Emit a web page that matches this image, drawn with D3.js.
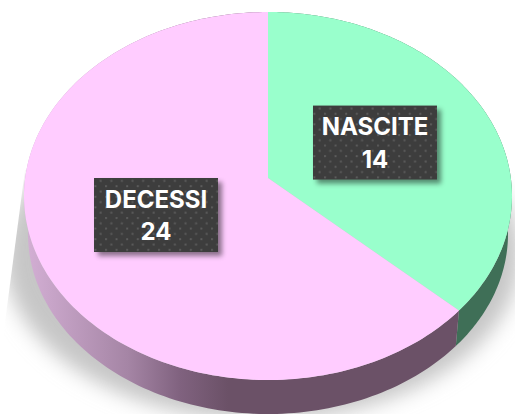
<!DOCTYPE html>
<html>
<head>
<meta charset="utf-8">
<script src="https://cdn.jsdelivr.net/npm/d3@7"></script>
<style>
    html, body { margin: 0; padding: 0; background: #fff; overflow: hidden; }
    svg { display: block; }
    text { font-family: Inter, "Liberation Sans", sans-serif; font-weight: 700; fill: #fff; text-anchor: middle; }
</style>
</head>
<body>
<svg id="chart" width="515" height="414"></svg>
<script>
// values
const categories = ["NASCITE", "DECESSI"];
const values = [14, 24];
const topColors = ["#99ffcc", "#ffccff"];

const svg = d3.select("#chart");
const defs = svg.append("defs");

// top ellipse, bottom ellipse, and the apex which sits above the ellipse centre (perspective)
const cx = 268, cy = 196, rx = 244, ry = 184;
const apexY = 178;
const bottomRx = 240, bottomRy = 180, depth = 38;

// pie angle -> point on the top rim: ray from the apex, hits the ellipse
function rimT(a) {
    let dx = Math.sin(a) * rx, dy = -Math.cos(a) * ry;
    let off = apexY - cy;
    let A = (dx * dx) / (rx * rx) + (dy * dy) / (ry * ry);
    let B = 2 * off * dy / (ry * ry);
    let C = (off * off) / (ry * ry) - 1;
    return (-B + Math.sqrt(B * B - 4 * A * C)) / (2 * A);
}
function rimTop(a) {
    let t = rimT(a);
    return [cx + t * Math.sin(a) * rx, apexY - t * Math.cos(a) * ry];
}
function rimBottom(a) {
    let p = rimTop(a);
    return [cx + (p[0] - cx) * bottomRx / rx, cy + depth + (p[1] - cy) * bottomRy / ry];
}
function samples(d, fn) {
    return d3.range(0, 181).map(i => fn(d.startAngle + (d.endAngle - d.startAngle) * i / 180));
}

const arcs = d3.pie().sort(null)(values);
const line = d3.line();

// side gradient for the big slice
let sideGrad = defs.append("linearGradient")
    .attr("id", "sideGrad")
    .attr("gradientUnits", "userSpaceOnUse")
    .attr("x1", 28).attr("x2", 228).attr("y1", 0).attr("y2", 0);
sideGrad.append("stop").attr("offset", "0").attr("stop-color", "#d2aed3");
sideGrad.append("stop").attr("offset", "0.5").attr("stop-color", "#a585a5");
sideGrad.append("stop").attr("offset", "0.76").attr("stop-color", "#80627f");
sideGrad.append("stop").attr("offset", "1").attr("stop-color", "#6b5167");
const sideColors = ["#3f6f57", "url(#sideGrad)"];

defs.append("filter").attr("id", "pieShadow")
    .attr("x", "-20%").attr("y", "-20%").attr("width", "140%").attr("height", "140%")
    .append("feGaussianBlur").attr("stdDeviation", 10);

// the shadow has a hard edge up on the left
defs.append("clipPath").attr("id", "shadowClip")
    .append("polygon")
    .attr("points", "25,170 4,330 4,414 515,414 515,170");

let boxShadow = defs.append("filter").attr("id", "boxShadow")
    .attr("x", "-20%").attr("y", "-20%").attr("width", "140%").attr("height", "140%");
boxShadow.append("feDropShadow")
    .attr("dx", 4).attr("dy", 4).attr("stdDeviation", 2.5)
    .attr("flood-color", "#000").attr("flood-opacity", 0.45);

// dots on the label boxes
let dots = defs.append("pattern").attr("id", "dots")
    .attr("patternUnits", "userSpaceOnUse")
    .attr("width", 10.6).attr("height", 10.6);
dots.append("rect").attr("width", 10.6).attr("height", 10.6).attr("fill", "#3c3c3c");
[[2, 2], [7.3, 7.3]].forEach(p => {
    dots.append("rect").attr("x", p[0]).attr("y", p[1]).attr("width", 2).attr("height", 2).attr("fill", "#5c5c5c");
});

// shadow under the pie
svg.append("g").attr("clip-path", "url(#shadowClip)")
    .append("ellipse")
    .attr("cx", 262).attr("cy", 255)
    .attr("rx", 258).attr("ry", 165)
    .attr("fill", "#c6c6c6")
    .attr("filter", "url(#pieShadow)");

// sides first, top faces hide what is behind
svg.selectAll("path.side").data(arcs).join("path")
    .attr("class", "side")
    .attr("fill", (d, i) => sideColors[i])
    .attr("d", d => line(samples(d, rimTop).concat(samples(d, rimBottom).reverse())) + "Z");

svg.selectAll("path.top").data(arcs).join("path")
    .attr("class", "top")
    .attr("fill", (d, i) => topColors[i])
    .attr("d", d => line([[cx, apexY]].concat(samples(d, rimTop))) + "Z");

// labels
const boxW = 124, boxH = 74, labelT = 0.49;
let labels = svg.selectAll("g.label").data(arcs).join("g")
    .attr("class", "label")
    .attr("transform", d => {
        let a = (d.startAngle + d.endAngle) / 2;
        let x = cx - 2.5 + labelT * Math.sin(a) * rx;
        let y = apexY + 0.8 - labelT * Math.cos(a) * ry;
        return "translate(" + x + "," + y + ")";
    });
labels.append("rect")
    .attr("x", -boxW / 2).attr("y", -boxH / 2)
    .attr("width", boxW).attr("height", boxH)
    .attr("fill", "url(#dots)")
    .attr("filter", "url(#boxShadow)");
labels.append("text").attr("y", -7.3).attr("font-size", 24)
    .text((d, i) => categories[i]);
labels.append("text").attr("y", 25.3).attr("font-size", 24)
    .text(d => d.value);
</script>
</body>
</html>
